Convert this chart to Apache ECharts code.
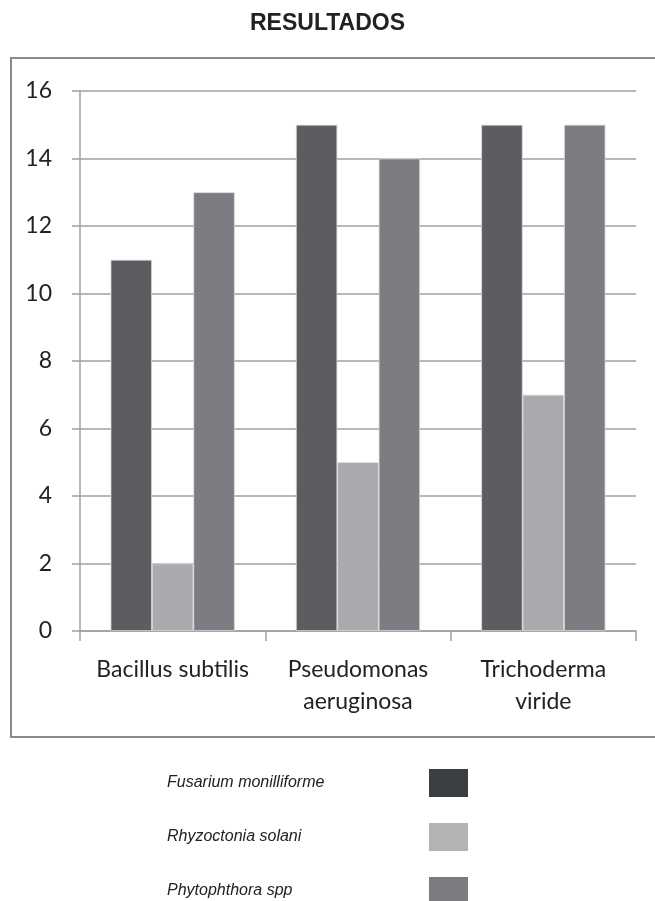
<!DOCTYPE html>
<html>
<head>
<meta charset="utf-8">
<script src="https://cdn.jsdelivr.net/npm/echarts@6/dist/echarts.min.js"></script>
<style>
  html, body { margin: 0; padding: 0; background: #fff; }
  #chart { width: 655px; height: 901px; }
</style>
</head>
<body>
<div id="chart"></div>
<script>
const categories = ['Bacillus subtilis', 'Pseudomonas\naeruginosa', 'Trichoderma\nviride'];
const seriesNames = ['Fusarium monilliforme', 'Rhyzoctonia solani', 'Phytophthora spp'];
const fusarium = [11, 15, 15];
const rhyzoctonia = [2, 5, 7];
const phytophthora = [13, 14, 15];

const barColors = ['#5c5d61', '#a8aaad', '#7c7d82'];
const legendColors = ['#3b3e42', '#b1b3b5', '#7b7c80'];

const chart = echarts.init(document.getElementById('chart'));

const makeSeries = (name, data, color) => ({
	name,
	type: 'bar',
	data,
	barGap: '0%',
	barCategoryGap: '33%',
	itemStyle: { color, borderColor: '#d8d8da', borderWidth: 0.8 },
	emphasis: { disabled: true }
});

chart.setOption({
	animation: false,
	title: {
		text: 'RESULTADOS',
		left: 'center',
		top: 7,
		textStyle: { fontFamily: 'Liberation Sans', fontWeight: 'bold', fontSize: 23, color: '#222' }
	},
	graphic: [{
		type: 'rect',
		shape: { x: 11, y: 58, width: 700, height: 679 },
		style: { fill: 'none', stroke: '#8a8a8a', lineWidth: 2 },
		silent: true,
		z: -1
	}],
	grid: { left: 80, right: 19, top: 91, bottom: 270 },
	xAxis: {
		type: 'category',
		data: categories,
		axisLine: { lineStyle: { color: '#a0a0a0', width: 1.5 } },
		axisTick: { show: true, length: 10, lineStyle: { color: '#a0a0a0', width: 1.5 } },
		axisLabel: {
			fontFamily: 'Lato',
			fontSize: 23,
			color: '#222',
			margin: 23,
			lineHeight: 32,
			interval: 0
		}
	},
	yAxis: {
		type: 'value',
		min: 0,
		max: 16,
		interval: 2,
		axisLine: { show: true, lineStyle: { color: '#a0a0a0', width: 1.5 } },
		axisTick: { show: true, length: 8, lineStyle: { color: '#a0a0a0', width: 1.5 } },
		splitLine: { lineStyle: { color: '#a0a0a0', width: 1.5 } },
		axisLabel: { fontFamily: 'Lato', fontSize: 23, color: '#222', margin: 28 }
	},
	legend: {
		orient: 'vertical',
		left: 167,
		top: 769,
		height: 150,
		padding: 0,
		align: 'right',
		itemWidth: 39,
		itemHeight: 28,
		itemGap: 26,
		selectedMode: false,
		data: seriesNames.map((name, i) => ({
			name,
			icon: 'rect',
			itemStyle: { color: legendColors[i], borderWidth: 0 }
		})),
		formatter: name => '{a|' + name + '}',
		textStyle: {
			rich: {
				a: {
					width: 257,
					align: 'left',
					fontFamily: 'Liberation Sans',
					fontStyle: 'italic',
					fontSize: 16,
					color: '#222'
				}
			}
		}
	},
	series: [
		makeSeries(seriesNames[0], fusarium, barColors[0]),
		makeSeries(seriesNames[1], rhyzoctonia, barColors[1]),
		makeSeries(seriesNames[2], phytophthora, barColors[2])
	]
});
</script>
</body>
</html>
